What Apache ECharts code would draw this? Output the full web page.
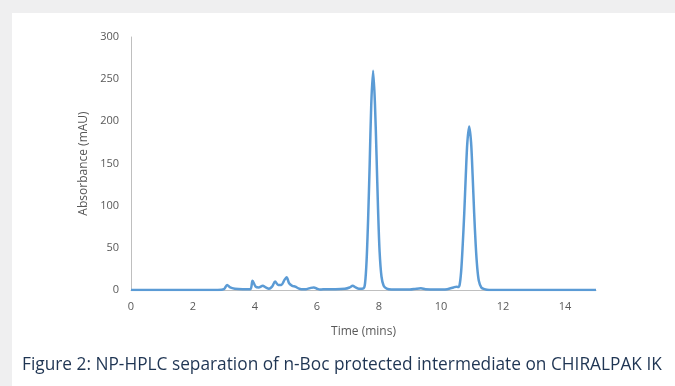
<!DOCTYPE html>
<html>
<head>
<meta charset="utf-8">
<script src="https://cdn.jsdelivr.net/npm/echarts@6/dist/echarts.min.js"></script>
<style>
    html, body { margin: 0; padding: 0; background: #ffffff; }
    #chart { width: 675px; height: 386px; }
</style>
</head>
<body>
<div id="chart"></div>
<script>
    // retention time (mins) and absorbance (mAU)
    var timeMins = [0, 1, 2, 2.8, 3.0, 3.1, 3.2, 3.35, 3.6, 3.85, 3.92, 4.02, 4.12, 4.25, 4.35, 4.45,
        4.55, 4.65, 4.75, 4.85, 4.95, 5.02, 5.1, 5.2, 5.3, 5.4, 5.5, 5.65, 5.8, 5.9, 6.0, 6.1,
        6.3, 6.6, 6.9, 7.05, 7.15, 7.25, 7.35, 7.5, 7.55, 7.6, 7.65, 7.7, 7.75, 7.81, 7.87, 7.92,
        7.97, 8.02, 8.08, 8.15, 8.25, 8.4, 9.0, 9.2, 9.35, 9.5, 9.8, 10.2, 10.4, 10.5, 10.55, 10.6,
        10.65, 10.7, 10.75, 10.8, 10.85, 10.91, 10.97, 11.02, 11.07, 11.12, 11.17, 11.22, 11.3,
        11.4, 11.55, 13, 15];
    var absorbance = [0, 0, 0, 0, 1, 6, 3, 1.5, 1, 1, 11, 4, 3, 5, 3, 1.5,
        4, 10, 6, 6, 12, 15, 8, 5, 4, 2, 1, 1, 2.5, 3, 1.5, 0.5,
        1, 1, 1.5, 3, 5, 3, 1.5, 2, 8, 35, 85, 150, 220, 260, 220, 160,
        95, 45, 16, 5, 1.5, 0.5, 0.5, 1.5, 2, 1, 0.5, 1, 3, 4, 3.5, 6,
        22, 53, 91, 136, 175, 194, 175, 136, 91, 53, 26, 11, 3,
        1, 0, 0, 0];
    var yTicks = [0, 50, 100, 150, 200, 250, 300];
    var xTicks = [0, 2, 4, 6, 8, 10, 12, 14];

    var points = timeMins.map(function (t, i) {
        return [t, absorbance[i]];
    });

    var myChart = echarts.init(document.getElementById('chart'));
    var labelFont = '"Open Sans", sans-serif';

    var option = {
        animation: false,
        backgroundColor: '#ffffff',
        graphic: [
            { type: 'rect', left: 0, top: 0, shape: { width: 675, height: 13 }, style: { fill: '#efeff0' } },
            { type: 'rect', left: 0, top: 0, shape: { width: 12, height: 386 }, style: { fill: '#efeff0' } },
            {
                type: 'text', left: 22, top: 357,
                style: {
                    text: 'Figure 2: NP-HPLC separation of n-Boc protected intermediate on CHIRALPAK IK',
                    fill: '#1f3553',
                    font: '17.3px "Open Sans", sans-serif'
                }
            }
        ],
        grid: { left: 131, right: 79, top: 37, bottom: 96 },
        xAxis: {
            type: 'value',
            min: 0,
            max: 15,
            interval: 2,
            name: 'Time (mins)',
            nameLocation: 'middle',
            nameGap: 36,
            nameTextStyle: { color: '#595959', fontSize: 12, fontFamily: labelFont },
            axisLine: { lineStyle: { color: '#bfbfbf', width: 1 } },
            axisTick: { show: false },
            splitLine: { show: false },
            axisLabel: {
                color: '#595959', fontSize: 11, fontFamily: labelFont, margin: 11,
                formatter: function (v) { return xTicks.indexOf(v) >= 0 ? String(v) : ''; }
            }
        },
        yAxis: {
            type: 'value',
            min: 0,
            max: 300,
            interval: 50,
            name: 'Absorbance (mAU)',
            nameLocation: 'middle',
            nameGap: 39,
            nameTextStyle: { color: '#595959', fontSize: 12, fontFamily: labelFont },
            axisLine: { show: true, lineStyle: { color: '#bfbfbf', width: 1 } },
            axisTick: { show: false },
            splitLine: { show: false },
            axisLabel: {
                color: '#595959', fontSize: 11, fontFamily: labelFont, margin: 12,
                formatter: function (v) { return yTicks.indexOf(v) >= 0 ? String(v) : ''; }
            }
        },
        series: [{
            type: 'line',
            data: points,
            symbol: 'none',
            smooth: 0.3,
            lineStyle: { color: '#5b9bd5', width: 2.5 }
        }]
    };

    myChart.setOption(option);
</script>
</body>
</html>
